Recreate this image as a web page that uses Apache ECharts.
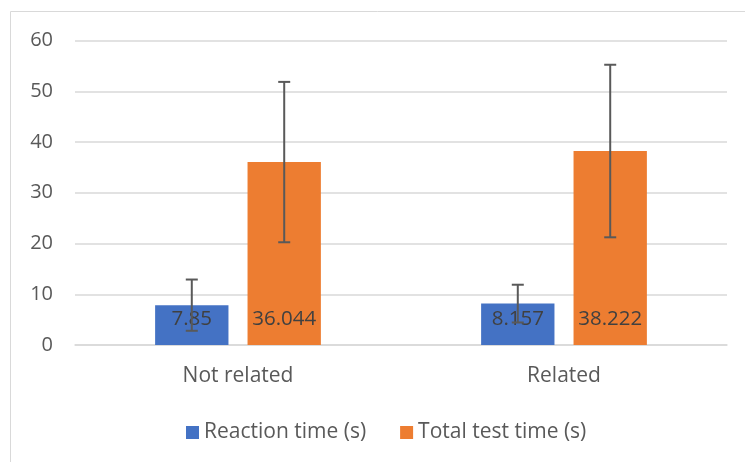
<!DOCTYPE html>
<html><head><meta charset="utf-8">
<script src="https://cdn.jsdelivr.net/npm/echarts@6/dist/echarts.min.js"></script>
<style>html,body{margin:0;padding:0;background:#fff}#c{width:745px;height:462px}</style>
</head><body><div id="c"></div>
<script>
const categories = ['Not related', 'Related'];
const seriesNames = ['Reaction time (s)', 'Total test time (s)'];
const reactionTime = [7.85, 8.157];
const totalTestTime = [36.044, 38.222];
const reactionErr = [5.05, 3.72];
const totalErr = [15.8, 17.0];
const yTicks = { min: 0, max: 60, interval: 10 };

const FONT = 'Open Sans';
const BAR_W = 0.225, GAP = 0.26;
const offsetFrac = (BAR_W + BAR_W * GAP) / 2;

function errSeries(vals, errs, sign) {
  return {
    type: 'custom', z: 10, silent: true,
    data: vals.map((v, i) => [i, v, errs[i]]),
    renderItem: function (params, api) {
      const i = api.value(0), v = api.value(1), e = api.value(2);
      const band = api.size([1, 0])[0];
      const c = api.coord([i, v]);
      const x = c[0] + sign * band * offsetFrac;
      const top = api.coord([i, v + e])[1];
      const bot = api.coord([i, v - e])[1];
      const hw = 6;
      const st = { stroke: '#595959', lineWidth: 2 };
      return { type: 'group', children: [
        { type: 'line', shape: { x1: x, y1: top, x2: x, y2: bot }, style: st },
        { type: 'line', shape: { x1: x - hw, y1: top, x2: x + hw, y2: top }, style: st },
        { type: 'line', shape: { x1: x - hw, y1: bot, x2: x + hw, y2: bot }, style: st }
      ]};
    }
  };
}

const chart = echarts.init(document.getElementById('c'), null, { renderer: 'canvas' });
const labelCfg = { show: true, position: 'insideBottom', distance: 15, color: '#404040', fontSize: 20.5, fontFamily: FONT };
chart.setOption({
  animation: false,
  textStyle: { fontFamily: FONT },
  graphic: [
    { type: 'line', shape: { x1: 10.5, y1: 11.5, x2: 745, y2: 11.5 }, style: { stroke: '#d9d9d9', lineWidth: 1 } },
    { type: 'line', shape: { x1: 10.5, y1: 11.5, x2: 10.5, y2: 462 }, style: { stroke: '#d9d9d9', lineWidth: 1 } }
  ],
  grid: { left: 75, right: 18, top: 40.5, bottom: 117, containLabel: false },
  legend: {
    top: 417, left: 181, itemWidth: 13, itemHeight: 13, itemGap: 34,
    icon: 'rect',
    textStyle: { color: '#595959', fontSize: 21, fontFamily: FONT },
    data: seriesNames
  },
  xAxis: {
    type: 'category', data: categories,
    axisLine: { lineStyle: { color: '#d9d9d9', width: 1.5 } },
    axisTick: { show: false },
    axisLabel: { color: '#595959', fontSize: 21, fontFamily: FONT, margin: 21 }
  },
  yAxis: {
    type: 'value', min: yTicks.min, max: yTicks.max, interval: yTicks.interval,
    axisLine: { show: false }, axisTick: { show: false },
    splitLine: { lineStyle: { color: '#d9d9d9', width: 1.5 } },
    axisLabel: { color: '#595959', fontSize: 20, fontFamily: FONT, margin: 22 }
  },
  series: [
    { name: seriesNames[0], type: 'bar', data: reactionTime, barWidth: (BAR_W * 100) + '%', barGap: (GAP * 100) + '%',
      itemStyle: { color: '#4472c4' }, label: labelCfg },
    { name: seriesNames[1], type: 'bar', data: totalTestTime, barWidth: (BAR_W * 100) + '%', barGap: (GAP * 100) + '%',
      itemStyle: { color: '#ed7d31' }, label: labelCfg },
    errSeries(reactionTime, reactionErr, -1),
    errSeries(totalTestTime, totalErr, 1)
  ]
});
</script></body></html>
